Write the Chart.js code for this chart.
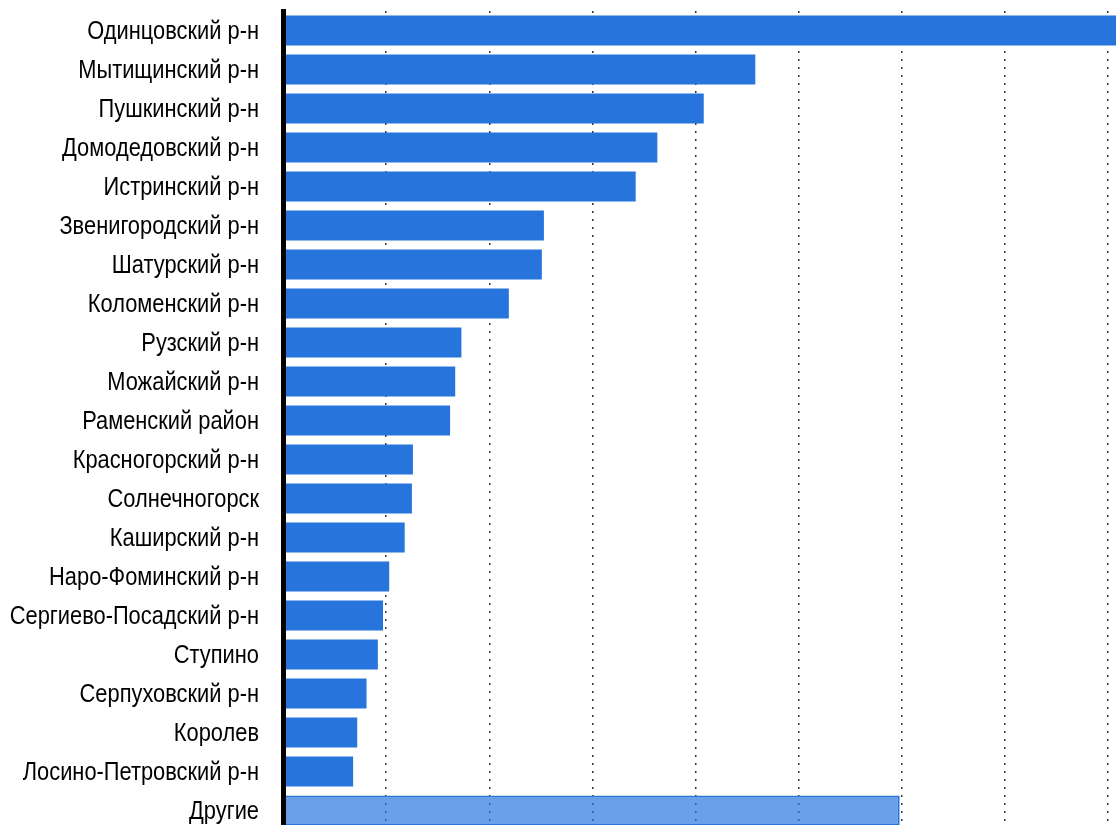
<!DOCTYPE html>
<html>
<head>
<meta charset="utf-8">
<script src="https://cdn.jsdelivr.net/npm/chart.js@4.4.1/dist/chart.umd.min.js"></script>
<style>
    html, body { margin: 0; padding: 0; background: #fff; overflow: hidden; }
    #wrap { width: 1124px; height: 830px; position: relative; }
</style>
</head>
<body>
<div id="wrap"><canvas id="districtChart"></canvas></div>
<script>
// районы
const districts = [
    'Одинцовский р-н', 'Мытищинский р-н', 'Пушкинский р-н', 'Домодедовский р-н',
    'Истринский р-н', 'Звенигородский р-н', 'Шатурский р-н', 'Коломенский р-н',
    'Рузский р-н', 'Можайский р-н', 'Раменский район', 'Красногорский р-н',
    'Солнечногорск', 'Каширский р-н', 'Наро-Фоминский р-н', 'Сергиево-Посадский р-н',
    'Ступино', 'Серпуховский р-н', 'Королев', 'Лосино-Петровский р-н', 'Другие'
];
// значения (оценка по рисунку)
const values = [
    850, 458, 408, 363, 342, 253, 251, 219, 173, 167, 162,
    126, 125, 118, 103, 97, 92, 81, 72, 68, 598
];
const gridStep = 100;
const axisMax = 800;

// узкие подписи: шрифта Arial Narrow нет, сжимаем обычный по горизонтали
const narrowLabels = {
    id: 'narrowLabels',
    afterDraw(chart) {
        const ctx = chart.ctx;
        const y = chart.scales.y;
        const right = y.right - 24;
        const squeeze = 0.84;
        ctx.save();
        ctx.font = '26px "Liberation Sans", Arial, sans-serif';
        ctx.fillStyle = '#000';
        ctx.textAlign = 'right';
        ctx.textBaseline = 'middle';
        ctx.scale(squeeze, 1);
        chart.data.labels.forEach((label, i) => {
            ctx.fillText(label, right / squeeze, y.getPixelForTick(i) + 1);
        });
        ctx.restore();
    }
};

document.addEventListener('DOMContentLoaded', function() {
    const ctx = document.getElementById('districtChart').getContext('2d');
    const last = values.length - 1;
    new Chart(ctx, {
        type: 'bar',
        data: {
            labels: districts,
            datasets: [{
                data: values,
                backgroundColor: values.map((v, i) => i === last ? 'rgba(39, 117, 220, 0.69)' : 'rgb(39, 117, 220)'),
                borderColor: 'rgb(39, 117, 220)',
                borderWidth: values.map((v, i) => i === last ? 2 : 0),
                borderSkipped: false,
                categoryPercentage: 1,
                barPercentage: 0.77,
                clip: false
            }]
        },
        options: {
            indexAxis: 'y',
            responsive: true,
            maintainAspectRatio: false,
            animation: false,
            layout: { padding: { top: 11, right: 16, bottom: 0, left: 0 } },
            plugins: {
                legend: { display: false },
                tooltip: { enabled: false }
            },
            scales: {
                x: {
                    min: 0,
                    max: axisMax,
                    ticks: { display: false, stepSize: gridStep },
                    grid: { color: '#333', lineWidth: 1.5, drawTicks: false },
                    border: { display: false, dash: [2, 6] }
                },
                y: {
                    grid: { display: false, drawTicks: false },
                    border: { display: true, color: '#000', width: 5, z: 2 },
                    ticks: { display: false },
                    afterFit: s => {
                        s.width = 283;
                        s.paddingTop = 0;
                        s.paddingBottom = 0;
                    }
                }
            }
        },
        plugins: [narrowLabels]
    });
});
</script>
</body>
</html>
